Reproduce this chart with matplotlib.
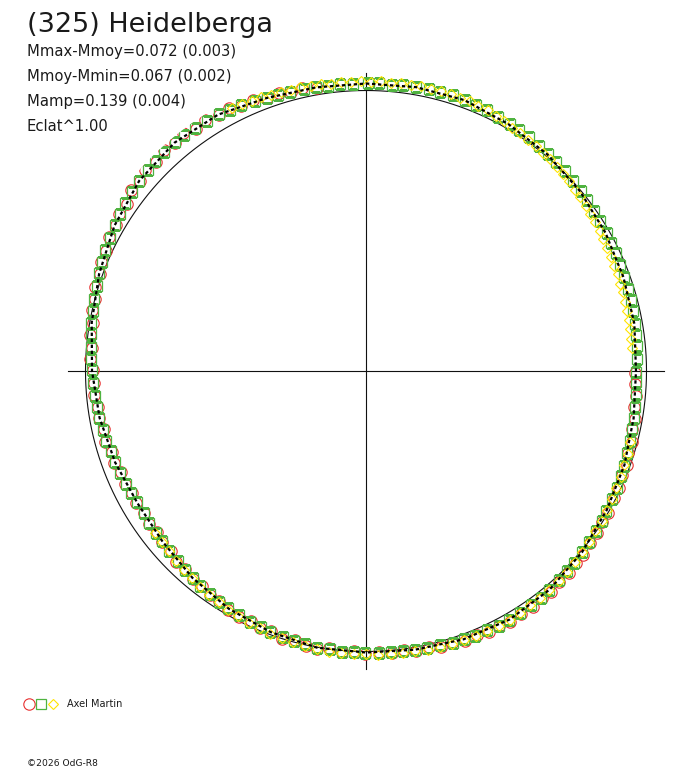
import numpy as np
import matplotlib
matplotlib.use("Agg")
from matplotlib import pyplot as plt
from matplotlib.legend_handler import HandlerTuple

# Polar light curve of (325) Heidelberga
# angle = rotational phase in degrees (clockwise from top)
# dm = brightness relative to the mean, in magnitudes (positive = outward)

fit_angle = [0, 10, 20, 30, 40, 50, 60, 70, 80, 90, 100, 110,
             120, 130, 140, 150, 160, 170, 180, 190, 200, 210, 220, 230,
             240, 250, 260, 270, 280, 290, 300, 310, 320, 330, 340, 350, 360]
fit_dm = [0.028, 0.031, 0.031, 0.018, 0.008, -0.004, -0.016, -0.026, -0.032, -0.042, -0.035, -0.022,
          -0.010, 0.006, 0.020, 0.026, 0.020, 0.010, 0.004, 0.002, -0.010, -0.024, -0.042, -0.060,
          -0.066, -0.054, -0.040, -0.026, -0.008, 0.014, 0.040, 0.062, 0.070, 0.062, 0.040, 0.030, 0.028]

red_angle = [90.5, 92.8, 95.2, 97.6, 100.1, 102.4, 104.9, 107.3, 109.8, 112.2, 114.7, 117.1,
             120.4, 122.6, 125.1, 127.5, 130.2, 132.4, 134.9, 137.6, 140.0, 142.3, 144.8, 147.4,
             150.1, 152.5, 154.8, 157.3, 159.9, 162.4, 164.8, 167.2, 169.9, 172.3, 174.7, 177.4,
             180.2, 182.5, 184.9, 187.6, 190.0, 192.4, 194.8, 197.5, 200.1, 202.4, 204.7, 207.3,
             210.0, 212.6, 214.9, 217.4, 219.8, 222.5, 224.9, 227.3, 230.1, 232.4, 234.8, 237.5,
             240.2, 242.4, 244.9, 247.6, 250.0, 252.3, 254.8, 257.5, 260.1, 262.4, 264.9, 267.4,
             270.2, 272.5, 274.8, 277.4, 280.0, 282.6, 284.9, 287.3, 290.1, 292.4, 294.8, 297.5,
             300.2, 302.4, 304.9, 307.6, 310.0, 312.3, 314.8, 317.5, 320.1, 322.4, 324.9, 327.4,
             330.2, 332.5, 334.8, 337.4, 340.0, 342.6, 344.9, 347.3, 350.1]
red_dm = [-0.046, -0.044, -0.036, -0.040, -0.030, -0.034, -0.022, -0.024, -0.014, -0.016, -0.006, -0.008,
          0.000, -0.002, 0.008, 0.008, 0.016, 0.016, 0.024, 0.022, 0.030, 0.028, 0.034, 0.030,
          0.034, 0.028, 0.032, 0.024, 0.028, 0.018, 0.022, 0.010, 0.016, 0.004, 0.012, 0.002,
          0.010, 0.000, 0.008, -0.004, 0.006, 0.004, -0.008, 0.000, -0.014, -0.008, -0.022, -0.016,
          -0.020, -0.032, -0.028, -0.040, -0.038, -0.050, -0.046, -0.058, -0.056, -0.066, -0.060, -0.068,
          -0.060, -0.068, -0.056, -0.062, -0.050, -0.054, -0.042, -0.048, -0.036, -0.040, -0.028, -0.034,
          -0.030, -0.018, -0.022, -0.008, -0.012, 0.002, -0.002, 0.012, 0.010, 0.026, 0.022, 0.038,
          0.036, 0.050, 0.046, 0.062, 0.058, 0.072, 0.064, 0.076, 0.066, 0.078, 0.062, 0.072,
          0.058, 0.064, 0.048, 0.054, 0.038, 0.044, 0.032, 0.040, 0.028]

green_angle = [0.3, 2.6, 5.1, 7.4, 10.0, 12.5, 14.8, 17.6, 20.1, 22.4, 24.9, 27.5,
               30.2, 32.4, 34.9, 37.6, 40.0, 42.3, 44.8, 47.5, 50.1, 52.4, 54.9, 57.4,
               60.2, 62.5, 64.8, 67.4, 70.0, 72.6, 74.9, 77.3, 80.1, 82.4, 84.8, 87.5,
               90.2, 92.4, 94.9, 97.6, 100.0, 102.3, 104.8, 107.5, 110.1, 112.4, 114.9, 117.4,
               120.2, 122.5, 124.8, 127.4, 130.0, 132.6, 134.9, 137.3, 140.1, 142.4, 144.8, 147.5,
               150.2, 152.4, 154.9, 157.6, 160.0, 162.3, 164.8, 167.5, 170.1, 172.4, 174.9, 177.4,
               180.2, 182.5, 184.8, 187.4, 190.0, 192.6, 194.9, 197.3, 200.1, 202.4, 204.8, 207.5,
               210.2, 212.4, 214.9, 217.6, 220.0, 222.3, 224.8, 227.5, 230.1, 232.4, 234.9, 237.4,
               240.2, 242.5, 244.8, 247.4, 250.0, 252.6, 254.9, 257.3, 260.1, 262.4, 264.8, 267.5,
               270.2, 272.4, 274.9, 277.6, 280.0, 282.3, 284.8, 287.5, 290.1, 292.4, 294.9, 297.4,
               300.2, 302.5, 304.8, 307.4, 310.0, 312.6, 314.9, 317.3, 320.1, 322.4, 324.8, 327.5,
               330.2, 332.4, 334.9, 337.6, 340.0, 342.3, 344.8, 347.5, 350.1, 352.4, 354.9, 357.4]
green_dm = [0.029, 0.031, 0.028, 0.033, 0.030, 0.034, 0.031, 0.035, 0.032, 0.030, 0.027, 0.024,
            0.022, 0.018, 0.017, 0.013, 0.012, 0.008, 0.006, 0.002, 0.000, -0.004, -0.006, -0.009,
            -0.013, -0.016, -0.017, -0.021, -0.022, -0.025, -0.025, -0.028, -0.029, -0.031, -0.035, -0.037,
            -0.040, -0.041, -0.038, -0.038, -0.033, -0.033, -0.028, -0.026, -0.021, -0.020, -0.015, -0.013,
            -0.011, -0.005, -0.003, 0.003, 0.005, 0.011, 0.013, 0.018, 0.019, 0.023, 0.023, 0.026,
            0.025, 0.027, 0.023, 0.023, 0.019, 0.019, 0.014, 0.013, 0.009, 0.009, 0.005, 0.006,
            0.005, 0.002, 0.004, 0.001, 0.003, -0.002, -0.003, -0.008, -0.009, -0.015, -0.016, -0.021,
            -0.025, -0.028, -0.034, -0.037, -0.043, -0.046, -0.052, -0.055, -0.059, -0.063, -0.063, -0.066,
            -0.065, -0.064, -0.060, -0.058, -0.053, -0.051, -0.046, -0.044, -0.039, -0.037, -0.032, -0.030,
            -0.025, -0.022, -0.016, -0.013, -0.007, -0.003, 0.004, 0.008, 0.015, 0.020, 0.028, 0.033,
            0.041, 0.045, 0.052, 0.056, 0.063, 0.064, 0.068, 0.068, 0.071, 0.068, 0.068, 0.064,
            0.063, 0.056, 0.052, 0.045, 0.041, 0.037, 0.036, 0.032, 0.031, 0.029, 0.030, 0.028]

yellow_angle = [333, 335, 337, 339, 341, 343, 345, 347, 349, 351, 353, 355, 357, 359,
                1, 3, 5, 7, 9, 11, 13, 15, 17, 19, 21, 23, 25, 27, 29,
                31, 33, 35, 37, 39, 41, 43, 45, 47, 49, 51, 53, 55, 57, 59,
                61, 63, 65, 67, 69, 71, 73, 75, 77, 79, 81, 83, 85,
                105.0, 107.5, 110.0, 112.5, 115.0, 117.5, 120.0, 122.5, 125.0, 127.5, 130.0, 132.5,
                135.0, 137.5, 140.0, 142.5, 145.0, 147.5, 150.0, 152.5, 155.0, 157.5, 160.0, 162.5,
                165.0, 167.5, 170.0, 172.5, 175.0, 177.5, 180.0, 182.5, 185.0, 187.5, 190.0, 192.5,
                195.0, 197.5, 200.0, 202.5, 205.0, 207.5, 210.0, 212.5, 215.0, 217.5, 220.0, 222.5,
                225.0, 227.5, 230.0, 232.5]
yellow_dm = [0.058, 0.056, 0.050, 0.050, 0.044, 0.046, 0.040, 0.044, 0.038, 0.040, 0.036, 0.040, 0.034, 0.038,
             0.036, 0.040, 0.034, 0.038, 0.036, 0.040, 0.034, 0.036, 0.038, 0.032, 0.034, 0.028, 0.028, 0.022, 0.020,
             0.012, 0.012, 0.006, 0.006, 0.002, 0.000, -0.004, -0.008, -0.010, -0.016, -0.018, -0.022, -0.026,
             -0.028, -0.032,
             -0.036, -0.040, -0.040, -0.044, -0.044, -0.048, -0.046, -0.050, -0.050, -0.052, -0.052, -0.056, -0.054,
             -0.030, -0.024, -0.023, -0.018, -0.017, -0.012, -0.011, -0.005, -0.003, 0.003, 0.005, 0.011,
             0.013, 0.018, 0.019, 0.023, 0.023, 0.026, 0.027, 0.026, 0.025, 0.024, 0.023, 0.021,
             0.020, 0.020, 0.016, 0.016, 0.013, 0.014, 0.011, 0.013, 0.010, 0.011, 0.008, 0.006,
             0.002, -0.002, -0.004, -0.009, -0.012, -0.017, -0.020, -0.025, -0.030, -0.034, -0.040, -0.044,
             -0.050, -0.054, -0.058, -0.060]

title = "(325) Heidelberga"
info_lines = ["Mmax-Mmoy=0.072 (0.003)", "Mmoy-Mmin=0.067 (0.002)",
              "Mamp=0.139 (0.004)", "Eclat^1.00"]
observer = "Axel Martin"
footer = "\u00a92026 OdG-R8"

W, H = 688, 768
CX, CY = 366, 371          # centre of the cross, pixels
R_PX = 280.5               # reference circle radius, pixels
MAG_SCALE = 250 / R_PX     # radius units per magnitude
RMAX = 1.08
CROSS = 1.062

TXT = "#1a1a1a"
RED = "#e83030"
GREEN = "#4fb340"
YELLOW = "#ffe400"


def radius(dm):
    return 1 + MAG_SCALE * np.asarray(dm)


def main():
    plt.rcParams['font.family'] = ['DejaVu Sans']
    fig = plt.figure(figsize=(W / 100, H / 100), dpi=100)
    size = 2 * RMAX * R_PX
    ax = fig.add_axes([(CX - RMAX * R_PX) / W, (H - CY - RMAX * R_PX) / H, size / W, size / H],
                      projection='polar')
    ax.set_theta_zero_location('N')
    ax.set_theta_direction(-1)
    ax.set_ylim(0, RMAX)
    ax.grid(False)
    ax.set_xticks([])
    ax.set_yticks([])
    ax.spines['polar'].set_visible(False)
    ax.patch.set_alpha(0)

    # cross and reference circle
    for a in [0, 90, 180, 270]:
        ax.plot([np.deg2rad(a)] * 2, [0, CROSS], color="#111111", lw=0.8, zorder=1)
    th = np.linspace(0, 2 * np.pi, 721)
    ax.plot(th, np.ones_like(th), color="#111111", lw=0.8, zorder=1)

    l_red, = ax.plot(np.deg2rad(red_angle), radius(red_dm), ls='none', marker='o', ms=8.2,
                     mfc='none', mec=RED, mew=0.8, zorder=2)
    l_green, = ax.plot(np.deg2rad(green_angle), radius(green_dm), ls='none', marker='s', ms=6.6,
                       mfc='none', mec=GREEN, mew=0.9, zorder=3)
    l_yel, = ax.plot(np.deg2rad(yellow_angle), radius(yellow_dm), ls='none', marker='D', ms=5.6,
                     mfc='none', mec=YELLOW, mew=0.8, zorder=4)

    ax.plot(np.deg2rad(fit_angle), radius(fit_dm), color="black", lw=1.6,
            ls=(0, (1.5, 1.2)), zorder=5)

    # texts
    fig.text(27 / W, 1 - 32 / H, title, fontsize=19.5, color=TXT, va='baseline')
    for i, line in enumerate(info_lines):
        fig.text(27 / W, 1 - (56 + 25 * i) / H, line, fontsize=10.6, color=TXT, va='baseline')
    fig.text(27 / W, 1 - 766 / H, footer, fontsize=6.6, color=TXT, va='baseline')

    fig.legend([(l_red, l_green, l_yel)], [observer], loc='center left',
               bbox_to_anchor=(23 / W, 1 - 704 / H), frameon=False, fontsize=7,
               handler_map={tuple: HandlerTuple(ndivide=None, pad=0)},
               handlelength=3.7, handletextpad=0.8, borderpad=0, borderaxespad=0,
               labelcolor=TXT)

    fig.savefig("out.png", dpi=100)


if __name__ == "__main__":
    main()
